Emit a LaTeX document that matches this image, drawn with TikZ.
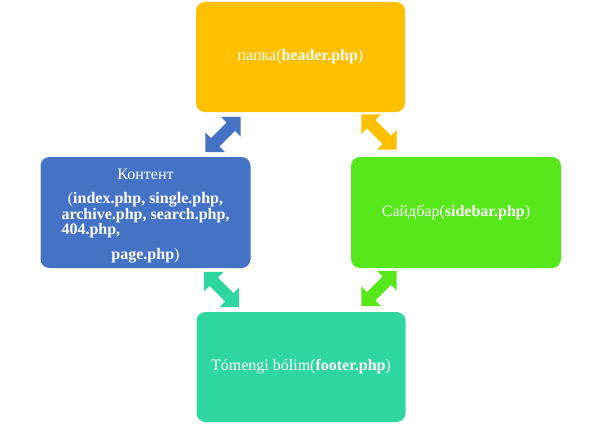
\documentclass[tikz,border=0pt]{standalone}
\usepackage{fontspec}
\setmainfont{Liberation Serif}
\definecolor{cgold}{HTML}{FFC000}
\definecolor{cblue}{HTML}{4472C4}
\definecolor{cgreen}{HTML}{56E81A}
\definecolor{cteal}{HTML}{2ED6A2}
\tikzset{
  box/.style={rounded corners=9pt, minimum width=209pt, minimum height=110pt,
    inner sep=0pt, text=white, align=center,
    font=\fontsize{16}{15.5}\selectfont},
}
% double block arrow: name, x, y, angle, colour
\newcommand{\dblarr}[5]{%
  \coordinate (#1) at (#2,#3);
  \fill[#5, shift={(#1)}, rotate=#4]
    (25,0) -- (11,14) -- (11,6) -- (-11,6) -- (-11,14) -- (-25,0)
    -- (-11,-14) -- (-11,-6) -- (11,-6) -- (11,-14) -- cycle;
}
\begin{document}
\begin{tikzpicture}[x=1pt,y=-1pt]
\useasboundingbox (0,0) rectangle (601,425);
\fill[white] (0,0) rectangle (601,425);
\node[box, fill=cgold] (head) at (300.5,57) {папка(\textbf{header.php})};
\node[box, fill=cblue, minimum width=210pt, minimum height=111pt] (cont) at (145.5,212.5)
  {\rule{0pt}{18pt}Контент\\[8.5pt]
   (\textbf{index.php, single.php,}\\
   \textbf{archive.php, search.php,}\\
   {\setbox0\hbox{\textbf{archive.php, search.php,}}\hbox to \wd0{\textbf{404.php,}\hfil}}\\[9pt]
   \textbf{page.php})};
\node[box, fill=cgreen, minimum width=210pt, minimum height=111pt] (side) at (456,212.5) {Сайдбар(\textbf{sidebar.php})};
\node[box, fill=cteal] (foot) at (301,367) {Tómengi bólim(\textbf{footer.php})};
\dblarr{a1}{223}{134.5}{45}{cblue}
\dblarr{a2}{379}{132}{-45}{cgold}
\dblarr{a3}{221.5}{289.5}{-45}{cteal}
\dblarr{a4}{379}{288.5}{45}{cgreen}
\end{tikzpicture}
\end{document}
